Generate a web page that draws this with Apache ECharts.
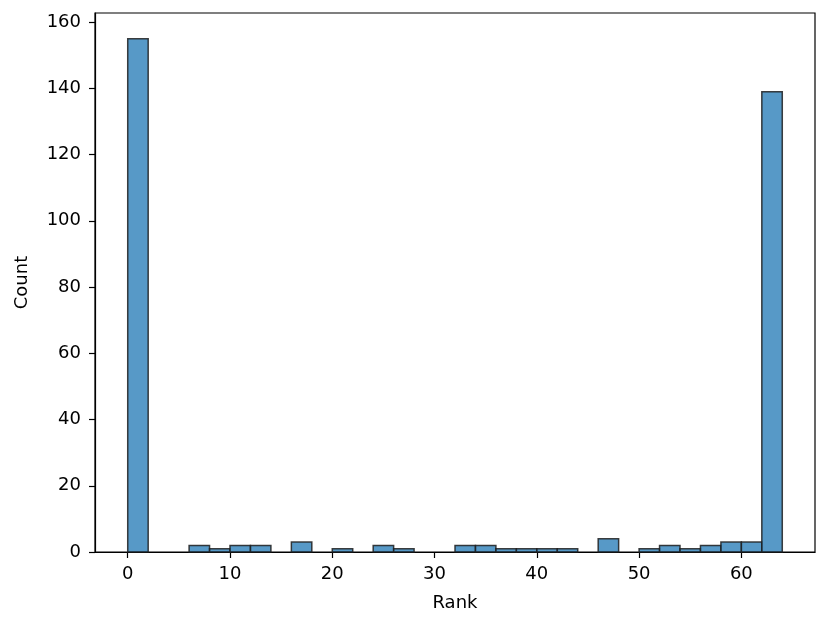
<!DOCTYPE html>
<html><head><meta charset="utf-8">
<script src="https://cdn.jsdelivr.net/npm/echarts@6/dist/echarts.min.js"></script>
<style>html,body{margin:0;padding:0;background:#fff}#c{width:831px;height:628px}</style>
</head><body><div id="c"></div>
<script>
const binEdges = [0,2,4,6,8,10,12,14,16,18,20,22,24,26,28,30,32,34,36,38,40,42,44,46,48,50,52,54,56,58,60,62,64];
const counts = [155,0,0,2,1,2,2,0,3,0,1,0,2,1,0,0,2,2,1,1,1,1,0,4,0,1,2,1,2,3,3,139];
const xTicks = [0,10,20,30,40,50,60];
const yTicks = [0,20,40,60,80,100,120,140,160];

const data = counts.map((c,i)=>[binEdges[i], binEdges[i+1], c]).filter(d=>d[2]>0);
const font = {fontFamily:'DejaVu Sans', fontSize:18, color:'#000'};
const chart = echarts.init(document.getElementById('c'));
chart.setOption({
  animation:false,
  grid:{left:95,right:16,top:13,bottom:76,show:true,borderColor:'#000',borderWidth:1.2,containLabel:false},
  xAxis:{type:'value',min:-3.2,max:67.2,name:'Rank',nameLocation:'middle',nameGap:42,
    nameTextStyle:font,
    axisLine:{show:true,onZero:false,lineStyle:{color:'#000',width:1.2}},
    axisTick:{show:true,inside:false,length:6,customValues:xTicks,lineStyle:{color:'#000',width:1.2}},
    axisLabel:Object.assign({customValues:xTicks,margin:13},font),
    splitLine:{show:false}},
  yAxis:{type:'value',min:0,max:162.75,name:'Count',nameLocation:'middle',nameGap:64,
    nameTextStyle:font,
    axisLine:{show:true,onZero:false,lineStyle:{color:'#000',width:1.2}},
    axisTick:{show:true,inside:false,length:6,customValues:yTicks,lineStyle:{color:'#000',width:1.2}},
    axisLabel:Object.assign({customValues:yTicks,margin:14},font),
    splitLine:{show:false}},
  series:[{type:'custom',data:data,encode:{x:[0,1],y:2},
    renderItem:function(params,api){
      const p0 = api.coord([api.value(0), api.value(2)]);
      const p1 = api.coord([api.value(1), 0]);
      return {type:'rect',shape:{x:p0[0],y:p0[1],width:p1[0]-p0[0],height:p1[1]-p0[1]},
        style:{fill:'rgba(31,119,180,0.75)',stroke:'rgba(30,30,30,0.85)',lineWidth:1.5}};
    }}]
});
</script></body></html>
